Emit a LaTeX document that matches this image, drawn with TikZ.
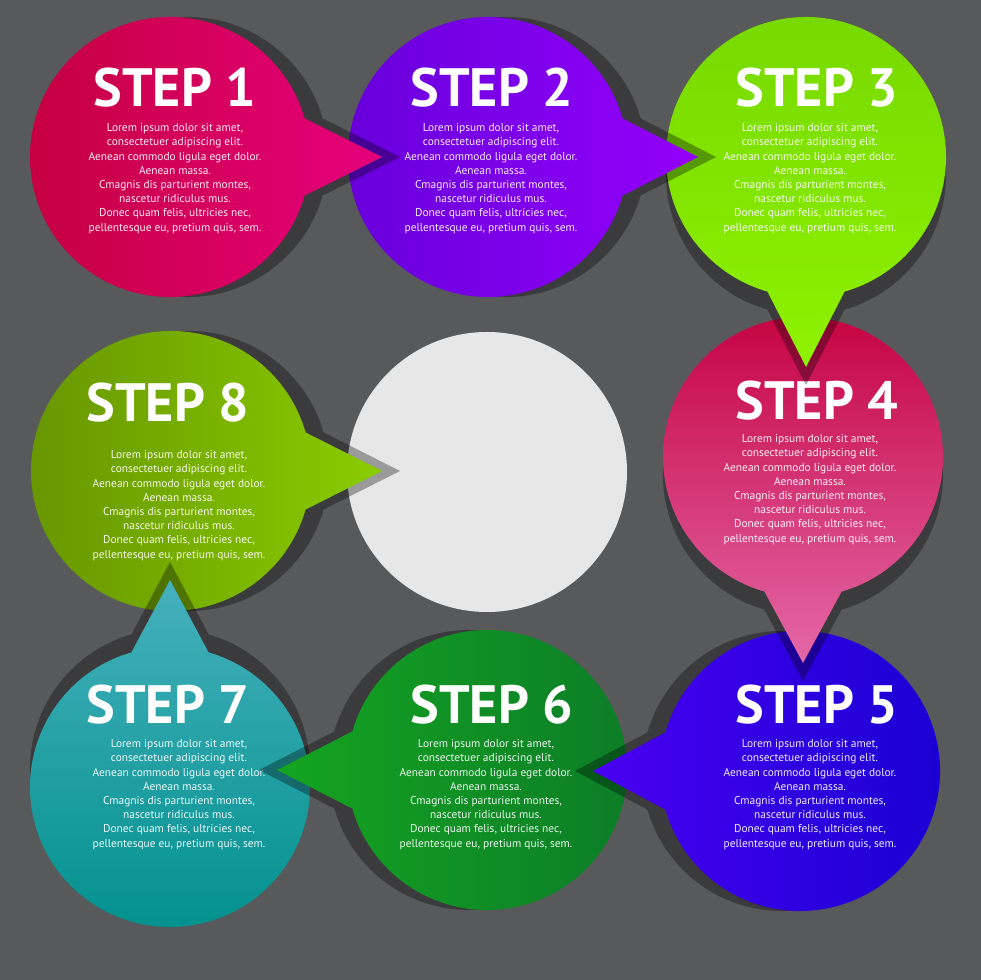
\documentclass[tikz,border=0pt]{standalone}
\usepackage{fontspec}
\setmainfont{PT Sans}
\usetikzlibrary{calc}
\definecolor{bgc}{HTML}{58595B}
\definecolor{greyc}{HTML}{E6E7E6}
\definecolor{c8l}{HTML}{669400}\definecolor{c8r}{HTML}{8ACC00}
\definecolor{c7t}{HTML}{45B0BC}\definecolor{c7m}{HTML}{1496A6}\definecolor{c7b}{HTML}{00908C}
\definecolor{c6l}{HTML}{14A420}\definecolor{c6m}{HTML}{06981E}\definecolor{c6r}{HTML}{0C7C28}
\definecolor{c5l}{HTML}{4A00F2}\definecolor{c5r}{HTML}{1800D2}
\definecolor{c4t}{HTML}{C4003F}\definecolor{c4m}{HTML}{D42870}\definecolor{c4b}{HTML}{E468A8}
\definecolor{c3t}{HTML}{76D800}\definecolor{c3m}{HTML}{8AEE00}\definecolor{c3b}{HTML}{8EF200}
\definecolor{c2l}{HTML}{6600DA}\definecolor{c2r}{HTML}{9400FA}
\definecolor{c1l}{HTML}{C4003E}\definecolor{c1r}{HTML}{E6007C}
\tikzset{
  shadowfill/.style={fill=black, fill opacity=0.33},
  titletext/.style={text=white, font=\fontsize{54}{54}\selectfont\bfseries, inner sep=0pt, anchor=base},
  bodytext/.style={text=white, text opacity=0.92, font=\fontsize{11.4}{14.2}\selectfont, align=center, inner sep=0pt, anchor=north},
}
% #1 name, #2 cx, #3 cy, #4 tail angle, #5 tail length, #6 shading options
\newcommand\bubble[6]{%
  \coordinate (#1) at (#2,#3);
  \fill[shadowfill, shift={(#4:18)}] (#2,#3) ++(#4+16:140) arc[start angle=#4+16, delta angle=328, radius=140] -- ([shift={(#4:#5)}]#2,#3) -- cycle;
  \shade[#6] (#2,#3) ++(#4+16:140) arc[start angle=#4+16, delta angle=328, radius=140] -- ([shift={(#4:#5)}]#2,#3) -- cycle;
}
\newcommand\loremtext{Lorem ipsum dolor sit amet,\\consectetuer adipiscing elit.\\Aenean commodo ligula eget dolor.\\Aenean massa.\\Cmagnis dis parturient montes,\\nascetur ridiculus mus.\\Donec quam felis, ultricies nec,\\pellentesque eu, pretium quis, sem.}
\begin{document}
\begin{tikzpicture}[x=1pt,y=1pt]
\useasboundingbox (0,0) rectangle (980,980);
\fill[bgc] (-6,-6) rectangle (986,986);
% centre grey circle
\fill[greyc] (487,508) circle[radius=140];
\coordinate (grey) at (487,508);
% step 8
\bubble{s8}{171}{509}{0}{211}{left color=c8l, right color=c8r}
\node[titletext] (t8) at (168,558) {STEP 8};
\node[bodytext] (b8) at (179,529.5) {\loremtext};
% step 7
\bubble{s7}{170}{193}{90}{207}{top color=c7t, middle color=c7m, bottom color=c7b}
\node[titletext] (t7) at (168,256) {STEP 7};
\node[bodytext] (b7) at (179,240.5) {\loremtext};
% step 6
\bubble{s6}{487}{210}{180}{210}{left color=c6l, middle color=c6m, right color=c6r}
\node[titletext] (t6) at (492,256) {STEP 6};
\node[bodytext] (b6) at (486,240.5) {\loremtext};
% step 5
\bubble{s5}{800}{209}{180}{207}{left color=c5l, right color=c5r}
\node[titletext] (t5) at (817,256) {STEP 5};
\node[bodytext] (b5) at (810,240.5) {\loremtext};
% step 4
\bubble{s4}{803}{523}{270}{206}{top color=c4t, middle color=c4m, bottom color=c4b}
\node[titletext] (t4) at (817,560) {STEP 4};
\node[bodytext] (b4) at (810,545.5) {\loremtext};
% step 3
\bubble{s3}{806}{823}{270}{210}{top color=c3t, middle color=c3m, bottom color=c3b}
\node[titletext] (t3) at (817,873) {STEP 3};
\node[bodytext] (b3) at (810,856.5) {\loremtext};
% step 2
\bubble{s2}{488}{823}{0}{210}{left color=c2l, right color=c2r}
\node[titletext] (t2) at (492,873) {STEP 2};
\node[bodytext] (b2) at (491,856.5) {\loremtext};
% step 1
\bubble{s1}{170}{823}{0}{212}{left color=c1l, right color=c1r}
\node[titletext] (t1) at (175,873) {STEP 1};
\node[bodytext] (b1) at (175,856.5) {\loremtext};
\end{tikzpicture}
\end{document}
